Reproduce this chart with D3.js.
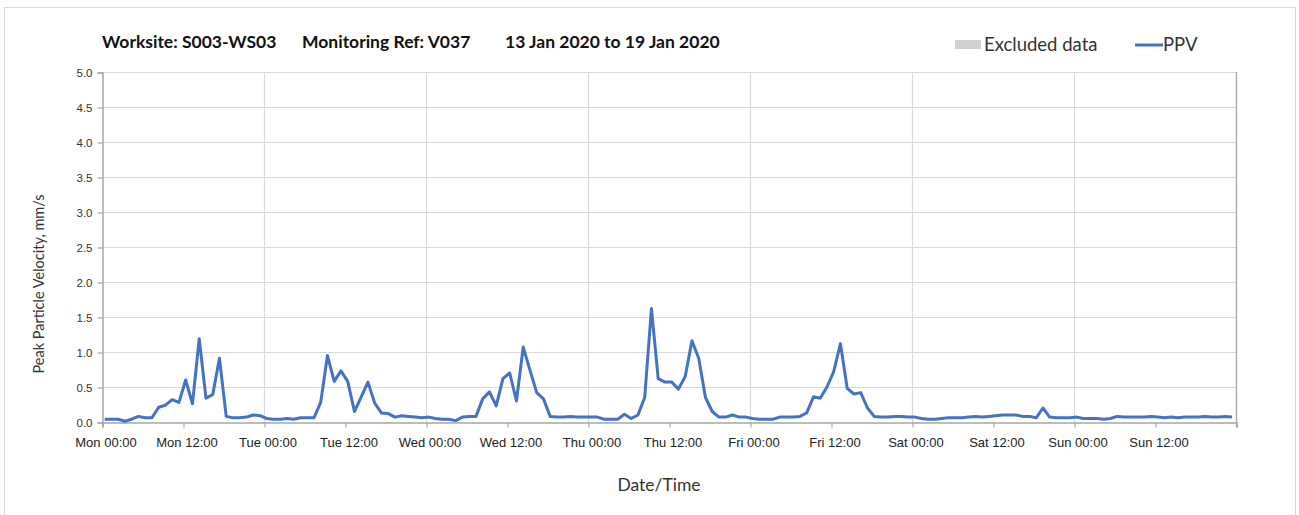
<!DOCTYPE html>
<html><head><meta charset="utf-8">
<script src="https://cdn.jsdelivr.net/npm/d3@7"></script>
<style>body{margin:0;background:#fff;} svg{display:block;font-family:Lato,"Open Sans",sans-serif;}</style>
</head><body><svg id="c" width="1299" height="515"></svg>
<script>
// hourly readings, Mon 00:25 onwards (hours since Mon 00:00)
const hours = d3.range(0, 168).map(h => h + 0.4);
const ppv = [
0.04,0.04,0.04,0.01,0.04,0.08,0.06,0.06,0.21,0.24,0.32,0.28,0.60,0.26,1.19,0.34,0.39,0.91,0.08,0.06,0.06,0.07,0.10,0.09,
0.05,0.04,0.04,0.05,0.04,0.06,0.06,0.06,0.28,0.95,0.58,0.73,0.58,0.15,0.36,0.57,0.27,0.13,0.12,0.07,0.09,0.08,0.07,0.06,
0.07,0.05,0.04,0.04,0.02,0.07,0.08,0.08,0.33,0.43,0.23,0.62,0.70,0.30,1.07,0.74,0.42,0.33,0.08,0.07,0.07,0.08,0.07,0.07,
0.07,0.07,0.04,0.04,0.04,0.11,0.05,0.10,0.35,1.62,0.62,0.57,0.57,0.47,0.65,1.16,0.91,0.35,0.15,0.07,0.07,0.10,0.07,0.07,
0.05,0.04,0.04,0.04,0.07,0.07,0.07,0.08,0.13,0.36,0.34,0.50,0.72,1.12,0.48,0.40,0.42,0.20,0.08,0.07,0.07,0.08,0.08,0.07,
0.07,0.05,0.04,0.04,0.05,0.06,0.06,0.06,0.07,0.08,0.07,0.08,0.09,0.10,0.10,0.10,0.08,0.08,0.06,0.20,0.07,0.06,0.06,0.06,
0.07,0.05,0.05,0.05,0.04,0.05,0.08,0.07,0.07,0.07,0.07,0.08,0.07,0.06,0.07,0.06,0.07,0.07,0.07,0.08,0.07,0.07,0.08,0.07];
const xTickLabels = ["Mon 00:00","Mon 12:00","Tue 00:00","Tue 12:00","Wed 00:00","Wed 12:00","Thu 00:00","Thu 12:00","Fri 00:00","Fri 12:00","Sat 00:00","Sat 12:00","Sun 00:00","Sun 12:00",""];
const xTicks = d3.range(0, 169, 12);
const yTicks = d3.range(0, 5.01, 0.5);
const titleParts = ["Worksite: S003-WS03","Monitoring Ref: V037","13 Jan 2020 to 19 Jan 2020"];
const legendLabels = ["Excluded data","PPV"];

const svg = d3.select("#c");
svg.append("rect").attr("x",4.5).attr("y",7.5).attr("width",1291).attr("height",520).attr("fill","#fff").attr("stroke","#d9d9d9");

const x = d3.scaleLinear().domain([0,168]).range([102,1236]);
const y = d3.scaleLinear().domain([0,5]).range([422,72]);

// horizontal gridlines
svg.append("g").selectAll("line").data(yTicks.slice(1)).join("line")
  .attr("x1",102).attr("x2",1236).attr("y1",d=>Math.round(y(d))+0.5).attr("y2",d=>Math.round(y(d))+0.5)
  .attr("stroke","#d9d9d9").attr("stroke-width",1.2);
// vertical gridlines at day boundaries
svg.append("g").selectAll("line").data(d3.range(24,169,24)).join("line")
  .attr("x1",d=>Math.round(x(d))+0.5).attr("x2",d=>Math.round(x(d))+0.5).attr("y1",72).attr("y2",422)
  .attr("stroke","#d9d9d9").attr("stroke-width",1.2);

// axes
const yAxis = d3.axisLeft(y).tickValues(yTicks).tickFormat(d3.format(".1f")).tickSize(5).tickPadding(5);
const gy = svg.append("g").attr("transform","translate(102.5,0.5)").call(yAxis);
gy.select(".domain").attr("stroke","#a6a6a6").attr("stroke-width",1.5);
gy.selectAll(".tick line").attr("stroke","#a6a6a6").attr("stroke-width",1.2);
gy.selectAll("text").attr("font-size",11.5).attr("fill","#333");

const xAxis = d3.axisBottom(x).tickValues(xTicks).tickFormat((d,i)=>xTickLabels[i]).tickSize(5).tickPadding(10);
const gx = svg.append("g").attr("transform","translate(0.5,422.5)").call(xAxis);
gx.select(".domain").attr("stroke","#a6a6a6").attr("stroke-width",1.5);
gx.selectAll(".tick line").attr("stroke","#a6a6a6").attr("stroke-width",1.2);
gx.selectAll("text").attr("font-size",13).attr("fill","#222").attr("dx",3);

// right edge line
svg.append("line").attr("x1",x(168)+0.5).attr("x2",x(168)+0.5).attr("y1",72).attr("y2",427).attr("stroke","#a6a6a6").attr("stroke-width",1.2);

// line
const line = d3.line().x((d,i)=>x(hours[i])).y(d=>y(d));
svg.append("path").datum(ppv).attr("d",line).attr("fill","none").attr("stroke","#4472c4").attr("stroke-width",3).attr("stroke-linejoin","round");

// titles
const tx = [102,302,505];
svg.append("g").selectAll("text").data(titleParts).join("text")
  .attr("x",(d,i)=>tx[i]).attr("y",48).attr("font-size",17.5).attr("font-weight","bold").attr("fill","#111").text(d=>d);

svg.append("text").attr("transform","translate(44,284) rotate(-90)").attr("text-anchor","middle")
  .attr("font-size",14.5).attr("fill","#333").text("Peak Particle Velocity, mm/s");
svg.append("text").attr("x",659).attr("y",491).attr("text-anchor","middle").attr("font-size",17.5).attr("fill","#333").text("Date/Time");

// legend
svg.append("rect").attr("x",955).attr("y",40).attr("width",26).attr("height",9).attr("fill","#d0d0d0");
svg.append("text").attr("x",984).attr("y",51).attr("font-size",18.5).attr("fill","#333").text(legendLabels[0]);
svg.append("line").attr("x1",1135).attr("x2",1163).attr("y1",45).attr("y2",45).attr("stroke","#4472c4").attr("stroke-width",3);
svg.append("text").attr("x",1163).attr("y",51).attr("font-size",18.5).attr("fill","#333").text(legendLabels[1]);
</script></body></html>
